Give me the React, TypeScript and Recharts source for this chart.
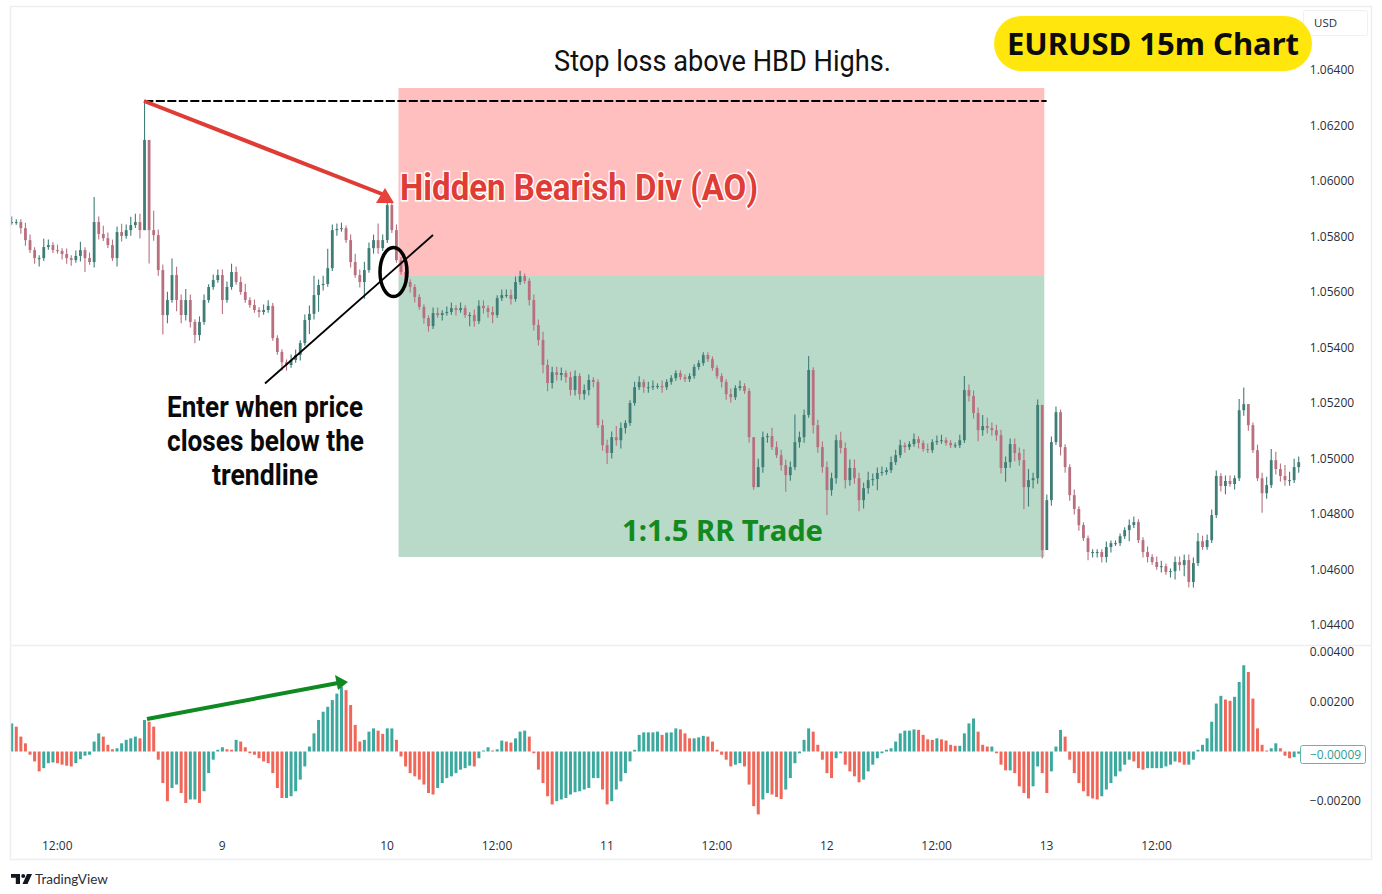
import React from "react";
import { ComposedChart, Bar, XAxis, YAxis, Cell, ReferenceArea, ReferenceLine } from "recharts";

const BASE = 1.04;
const PIP = 0.0001;
const closePips = [
185.2,185.2,183.0,178.7,175.1,172.2,172.2,176.2,176.9,175.1,
174.8,173.7,172.2,171.5,173.0,175.1,172.2,170.8,185.2,180.9,
179.4,176.9,172.2,181.6,180.2,182.3,184.1,185.2,182.3,214.8,
182.3,180.5,167.9,151.7,157.1,166.1,157.1,151.7,157.1,149.2,
144.5,149.2,157.1,161.8,164.3,166.1,157.1,161.8,167.2,163.6,
160.0,157.1,155.3,153.5,152.8,153.5,155.0,143.4,138.4,134.7,
133.7,135.5,137.3,141.6,149.9,152.1,158.9,162.5,162.9,168.6,
182.3,182.7,183.0,178.7,170.8,166.1,163.6,167.9,175.8,178.7,
175.8,178.7,191.3,182.3,171.5,167.2,163.6,161.8,158.2,154.6,
150.6,147.7,152.4,151.7,152.4,152.8,154.2,153.5,154.2,151.7,
151.7,149.5,155.0,154.2,152.8,151.7,157.8,158.9,158.9,157.5,
163.6,165.7,164.0,157.1,148.1,142.7,133.7,127.2,131.1,130.1,
130.8,129.3,124.7,129.7,123.2,124.7,128.3,127.6,112.0,104.8,
102.0,107.7,106.6,111.0,112.8,120.0,125.7,127.6,125.7,125.7,
126.1,126.1,125.7,127.6,129.0,130.8,129.3,128.6,129.7,133.0,
134.4,137.3,135.8,132.6,129.7,127.6,123.2,122.1,125.4,126.1,
124.3,107.7,89.7,96.9,107.7,108.1,104.1,101.2,97.6,94.0,
96.9,105.9,107.7,115.7,131.9,112.0,104.1,96.9,88.6,92.9,
106.6,103.8,92.2,96.6,92.9,85.0,89.3,92.2,92.6,94.8,
95.1,95.8,98.7,101.2,104.8,104.1,105.2,107.0,105.6,103.4,
103.0,105.9,106.3,106.6,105.6,104.8,104.8,106.6,124.7,122.5,
116.4,110.2,111.7,111.0,110.2,108.4,96.6,98.7,105.2,102.0,
99.4,89.7,92.2,92.9,119.3,67.0,85.0,105.9,116.7,104.1,
96.9,86.8,81.8,76.0,71.3,66.3,66.3,66.3,64.5,68.1,
69.5,69.5,72.0,74.2,76.0,77.1,70.6,66.3,64.5,62.7,
60.9,61.2,59.1,59.4,62.7,61.6,63.4,55.5,62.3,70.2,
68.1,70.6,79.6,93.7,90.1,91.9,90.8,92.9,117.4,119.6,
112.0,103.0,92.9,87.5,90.4,99.4,96.2,93.7,92.2,92.2,
96.9,98.7,
];
const wickUp = [
2,1,1,2,2,1,1,3,2,1,
2,1,2,1,2,3,1,2,9,2,
3,2,2,2,3,2,3,3,3,14,
0,7,2,2,3,6,3,2,4,2,
1,2,2,1,2,2,2,2,3,2,
2,3,1,2,1,2,2,1,1,1,
1,2,2,1,2,3,7,2,3,7,
2,2,2,1,2,3,2,3,2,2,
6,2,2,1,2,1,2,1,1,1,
1,1,2,2,1,2,2,1,2,1,
1,2,2,2,1,2,1,2,2,2,
2,2,1,1,2,2,3,2,2,2,
2,1,2,2,1,2,2,1,1,2,
2,2,4,2,1,1,2,2,1,2,
2,1,2,1,1,1,1,1,1,1,
1,1,1,1,1,1,1,2,1,2,
1,1,0,3,2,1,3,2,2,2,
2,10,2,2,5,1,2,2,2,2,
2,3,2,3,3,2,2,3,2,2,
2,1,2,2,2,1,1,2,1,1,
2,1,2,2,1,1,1,2,5,2,
2,2,4,3,2,2,2,2,2,2,
2,4,4,2,2,0,2,2,2,1,
1,1,2,1,1,1,1,1,1,2,
1,1,1,1,2,2,1,1,2,1,
2,2,1,1,2,2,2,2,2,3,
2,2,2,2,1,2,2,1,4,6,
0,1,2,2,3,4,3,2,4,3,
3,2,
];
const wickDown = [
1,1,2,2,1,2,3,1,1,1,
1,2,2,2,1,2,5,1,2,2,
1,1,1,3,2,1,2,1,3,0,
12,2,2,7,3,1,4,3,2,2,
3,2,1,1,1,1,5,1,1,1,
1,1,1,1,2,1,1,1,1,3,
2,1,1,2,1,5,2,6,2,1,
1,2,1,1,2,1,2,6,1,2,
2,1,1,1,1,1,2,2,2,1,
2,2,1,1,2,1,1,2,1,1,
4,2,1,2,2,3,1,1,1,2,
1,1,1,2,2,2,3,3,2,2,
2,2,2,2,2,2,2,2,1,2,
4,2,2,3,2,1,1,1,2,2,
1,1,2,1,1,1,1,1,1,1,
1,1,1,1,1,2,2,2,1,1,
1,2,1,0,2,2,1,1,2,6,
2,1,2,2,1,3,2,2,9,2,
2,2,3,2,2,4,3,2,2,4,
1,1,1,1,1,2,1,1,2,1,
1,1,1,1,1,1,1,1,1,2,
2,4,2,2,2,2,2,5,2,3,
2,8,7,3,2,3,0,2,1,3,
2,2,2,2,1,3,2,2,2,2,
2,1,1,1,4,1,1,2,2,1,
1,2,1,2,3,2,4,2,2,1,
1,1,1,1,2,3,1,2,1,2,
2,1,1,7,2,1,2,2,2,2,
1,2,
];
// Awesome Oscillator, in units of 0.00001
const aoValues = [
113,100,60,33,-13,-40,-80,-67,-47,-44,
-47,-53,-57,-60,-47,-31,-17,-13,40,73,
60,27,9,13,33,47,53,60,53,127,
120,100,-33,-127,-200,-147,-133,-167,-207,-193,
-193,-207,-160,-87,-33,7,17,9,7,47,
40,17,-7,-13,-27,-40,-47,-87,-147,-187,
-187,-180,-160,-113,-60,20,73,127,160,180,
207,233,260,247,187,107,40,47,80,93,
84,71,93,93,47,-20,-60,-87,-100,-113,
-133,-167,-173,-147,-127,-107,-100,-87,-73,-67,
-57,-60,-27,4,17,4,9,44,40,36,
53,80,84,60,-7,-73,-127,-180,-213,-200,
-193,-187,-173,-164,-160,-153,-147,-107,-107,-153,
-213,-200,-153,-120,-87,-40,7,67,77,77,
77,80,67,76,77,93,89,73,53,53,
57,63,60,40,7,-13,-33,-60,-53,-47,
-60,-133,-220,-253,-193,-167,-173,-183,-191,-153,
-107,-47,-7,47,93,80,27,-33,-87,-107,
-27,-7,-53,-80,-100,-124,-113,-80,-53,-27,
-7,7,13,40,73,84,84,89,87,67,
49,47,53,49,44,27,23,23,73,113,
133,80,27,20,20,-7,-53,-76,-76,-87,
-140,-167,-189,-140,-60,-87,-167,-80,20,87,
60,-33,-87,-127,-160,-180,-189,-193,-180,-153,
-127,-100,-80,-53,-33,-40,-67,-73,-67,-67,
-67,-67,-60,-53,-40,-44,-53,-53,-33,7,
27,53,120,193,224,209,204,220,280,347,
320,213,93,27,4,13,33,13,-17,-27,
-23,-9,
];
const timeTickIndex = [10, 46, 82, 106, 130, 154, 178, 202, 226, 250];
const timeTickLabels = ["12:00", "9", "10", "12:00", "11", "12:00", "12", "12:00", "13", "12:00"];
const priceTicks = [1.044, 1.046, 1.048, 1.05, 1.052, 1.054, 1.056, 1.058, 1.06, 1.062, 1.064];
const aoTicks = [-0.002, 0.002, 0.004];

const ENTRY = 1.05658;
const STOP = 1.06335;
const TARGET = 1.04645;
const HIGH_LINE = 1.06288;
const TRADE_START = 85;
const TRADE_END = 225;
const HIGH_INDEX = 29;
const HIGH_LINE_END = 226;

const UP = "#3f7d77";
const DOWN = "#b8707f";
const AO_UP = "#3ba99e";
const AO_DOWN = "#f0675a";
const FRAME = "#eceef1";

const candles = closePips.map((c, i) => {
  const close = BASE + c * PIP;
  const open = BASE + (i === 0 ? c : closePips[i - 1]) * PIP;
  const high = Math.max(open, close) + wickUp[i] * PIP;
  const low = Math.min(open, close) - wickDown[i] * PIP;
  return { idx: i, open, close, high, low, range: [low, high] };
});
const aoData = aoValues.map((v, i) => ({
  idx: i,
  ao: v * 0.00001,
  color: i === 0 || v >= aoValues[i - 1] ? AO_UP : AO_DOWN,
}));

function Candle(props: any) {
  const { x, y, width, height, payload } = props;
  const { open, close, high, low } = payload;
  const span = high - low || 1;
  const toY = (v: number) => y + ((high - v) / span) * height;
  const cx = x + width / 2;
  const top = toY(Math.max(open, close));
  const bot = toY(Math.min(open, close));
  const col = close >= open ? UP : DOWN;
  return (
    <g>
      <line x1={cx} x2={cx} y1={y} y2={y + height} stroke={col} strokeWidth={1.1} />
      <rect x={cx - 1.4} y={top} width={2.8} height={Math.max(bot - top, 1)} fill={col} />
    </g>
  );
}

const tickStyle = { fontFamily: "'Open Sans', 'Noto Sans', sans-serif", fontSize: 12, fill: "#2a2e39" };
const condensed = "Roboto, 'Liberation Sans', sans-serif";

function TimeTick(props: any) {
  const { x, y, payload } = props;
  const k = timeTickIndex.indexOf(payload.value);
  return (
    <text x={x} y={y} textAnchor="middle" dominantBaseline="central" style={tickStyle}>
      {timeTickLabels[k]}
    </text>
  );
}

export default function App() {
  return (
    <div style={{ position: "absolute", left: 0, top: 0, width: 1382, height: 894, background: "#fff", overflow: "hidden" }}>
      <div style={{ position: "absolute", left: 0, top: 0 }}>
        <ComposedChart width={1382} height={650} data={candles} margin={{ top: 7, left: 9.2, right: 0, bottom: 5 }} barCategoryGap={0}>
          <XAxis dataKey="idx" type="category" hide />
          <YAxis
            orientation="right"
            width={81.2}
            domain={[1.04328, 1.06627]}
            ticks={priceTicks}
            allowDataOverflow
            tickFormatter={(v: number) => v.toFixed(5)}
            axisLine={false}
            tickLine={false}
            tickMargin={3}
            tick={tickStyle}
            interval={0}
          />
          <ReferenceArea x1={TRADE_START} x2={TRADE_END} y1={ENTRY} y2={STOP} fill="#ffbfbf" fillOpacity={1} stroke="none" ifOverflow="hidden" />
          <ReferenceArea x1={TRADE_START} x2={TRADE_END} y1={TARGET} y2={ENTRY} fill="#b9dac8" fillOpacity={1} stroke="none" ifOverflow="hidden" />
          <Bar dataKey="range" isAnimationActive={false} shape={<Candle />} />
          <ReferenceLine
            segment={[{ x: HIGH_INDEX, y: HIGH_LINE }, { x: HIGH_LINE_END, y: HIGH_LINE }]}
            stroke="#000"
            strokeWidth={2}
            strokeDasharray="9 2.5"
          />
        </ComposedChart>
      </div>
      <div style={{ position: "absolute", left: 0, top: 638 }}>
        <ComposedChart width={1382} height={222} data={aoData} margin={{ top: 10, left: 9.2, right: 0, bottom: 0 }} barCategoryGap="35%">
          <XAxis
            dataKey="idx"
            type="category"
            ticks={timeTickIndex}
            interval={0}
            height={32}
            axisLine={false}
            tickLine={false}
            tick={<TimeTick />}
            tickMargin={11}
          />
          <YAxis
            orientation="right"
            width={81.2}
            domain={[-0.003078, 0.004165]}
            ticks={aoTicks}
            allowDataOverflow
            tickFormatter={(v: number) => v.toFixed(5).replace("-", "\u2212")}
            axisLine={false}
            tickLine={false}
            tickMargin={3}
            tick={tickStyle}
            interval={0}
          />
          <Bar dataKey="ao" isAnimationActive={false} barSize={3}>
            {aoData.map((d) => (
              <Cell key={d.idx} fill={d.color} />
            ))}
          </Bar>
        </ComposedChart>
      </div>
      <svg width={1382} height={894} style={{ position: "absolute", left: 0, top: 0, pointerEvents: "none" }}>
        {/* frame */}
        <rect x={10.5} y={6.5} width={1361} height={853} fill="none" stroke={FRAME} strokeWidth={1.5} />
        <line x1={10} x2={1372} y1={645.5} y2={645.5} stroke={FRAME} strokeWidth={1.5} />

        {/* red arrow */}
        <line x1={144} y1={101} x2={382} y2={194} stroke="#e03c36" strokeWidth={4} />
        <polygon points="394,203 376,203 385,188" fill="#e8403a" />
        {/* trend line and circle */}
        <line x1={265} y1={383.5} x2={433} y2={235} stroke="#000" strokeWidth={1.8} />
        <ellipse cx={393.5} cy={272} rx={13.5} ry={24.5} fill="none" stroke="#000" strokeWidth={3.5} />
        {/* green arrow */}
        <line x1={147} y1={719} x2={338} y2={683} stroke="#0f8a22" strokeWidth={4} />
        <polygon points="348,682 335,675 338,690" fill="#0f8a22" />

        {/* annotation labels */}
        <text x={554} y={71} fontFamily={condensed} fontSize={29} fill="#111" textLength={337} lengthAdjust="spacingAndGlyphs">
          Stop loss above HBD Highs.
        </text>
        <text x={400} y={200} fontFamily={condensed} fontWeight={700} fontSize={37} fill="#e03c36" stroke="#fff" strokeWidth={3} style={{ paintOrder: "stroke" }} textLength={358} lengthAdjust="spacingAndGlyphs">
          Hidden Bearish Div (AO)
        </text>
        <text x={167} y={417} fontFamily={condensed} fontWeight={700} fontSize={29} fill="#0a0a0a" textLength={196} lengthAdjust="spacingAndGlyphs">
          Enter when price
        </text>
        <text x={167} y={451} fontFamily={condensed} fontWeight={700} fontSize={29} fill="#0a0a0a" textLength={197} lengthAdjust="spacingAndGlyphs">
          closes below the
        </text>
        <text x={212} y={485} fontFamily={condensed} fontWeight={700} fontSize={29} fill="#0a0a0a" textLength={106} lengthAdjust="spacingAndGlyphs">
          trendline
        </text>
        <text x={622} y={541} fontFamily="'Noto Sans', sans-serif" fontWeight={700} fontSize={29} fill="#128a1f" textLength={201} lengthAdjust="spacingAndGlyphs">
          1:1.5 RR Trade
        </text>

        {/* USD box + title pill */}
        <rect x={1303.5} y={10.5} width={64} height={25} rx={2} fill="#fff" stroke="#eef0f2" />
        <text x={1314} y={27} style={{ ...tickStyle, fontSize: 11.5 }}>USD</text>
        <rect x={994} y={16} width={318} height={55} rx={27.5} fill="#ffe70d" />
        <text x={1007} y={55} fontFamily="'Noto Sans', sans-serif" fontWeight={700} fontSize={31} fill="#0c0c0c" textLength={292} lengthAdjust="spacingAndGlyphs">
          EURUSD 15m Chart
        </text>

        {/* last AO value */}
        <rect x={1300.5} y={745.5} width={65} height={18} rx={2} fill="#fff" stroke="#5fb8ae" />
        <text x={1310} y={758.5} style={{ ...tickStyle, fill: "#2f9d92" }}>{"\u22120.00009"}</text>

        {/* TradingView mark */}
        <path d="M11 874h9v10h-4.2v-6.2H11z" fill="#131722" />
        <circle cx={23.2} cy={876} r={2} fill="#131722" />
        <path d="M27 874h5l-4.5 10h-5z" fill="#131722" />
        <text x={35} y={884} fontFamily="Lato, 'Open Sans', sans-serif" fontSize={13.5} fill="#2a2e39">TradingView</text>
      </svg>
    </div>
  );
}
